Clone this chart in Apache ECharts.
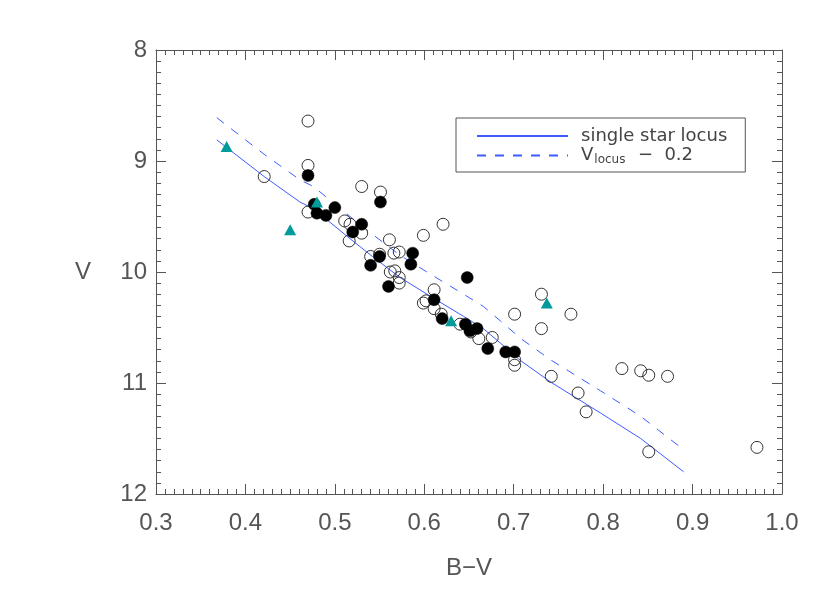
<!DOCTYPE html>
<html>
<head>
<meta charset="utf-8">
<script src="https://cdn.jsdelivr.net/npm/echarts@6/dist/echarts.min.js"></script>
<style>
html,body{margin:0;padding:0;background:#fff;}
#chart{width:830px;height:593px;}
</style>
</head>
<body>
<div id="chart"></div>
<script>
// ---- data (B-V, V) ----
const openStars = [
  [0.470, 8.64], [0.421, 9.14], [0.470, 9.04], [0.470, 9.46], [0.530, 9.23],
  [0.551, 9.28], [0.511, 9.54], [0.517, 9.57], [0.530, 9.65], [0.516, 9.72],
  [0.561, 9.71], [0.599, 9.67], [0.621, 9.57], [0.550, 9.84], [0.540, 9.86],
  [0.566, 9.83], [0.572, 9.82], [0.562, 10.00], [0.567, 9.99], [0.572, 10.05],
  [0.572, 10.10], [0.599, 10.28], [0.602, 10.26], [0.611, 10.16], [0.611, 10.33],
  [0.619, 10.38], [0.640, 10.47], [0.652, 10.54], [0.661, 10.60], [0.676, 10.59],
  [0.701, 10.38], [0.701, 10.79], [0.701, 10.84], [0.731, 10.20], [0.731, 10.51],
  [0.764, 10.38], [0.742, 10.94], [0.772, 11.09], [0.781, 11.26], [0.821, 10.87],
  [0.842, 10.89], [0.851, 10.93], [0.872, 10.94], [0.851, 11.62], [0.972, 11.58]
];
const filledStars = [
  [0.470, 9.13], [0.477, 9.39], [0.480, 9.47], [0.490, 9.49], [0.500, 9.42],
  [0.551, 9.37], [0.530, 9.57], [0.520, 9.64], [0.550, 9.86], [0.540, 9.94],
  [0.587, 9.83], [0.585, 9.93], [0.560, 10.13], [0.648, 10.05], [0.611, 10.25],
  [0.620, 10.42], [0.646, 10.47], [0.651, 10.53], [0.659, 10.51], [0.671, 10.69],
  [0.691, 10.72], [0.701, 10.72]
];
const triangleStars = [
  [0.379, 8.87], [0.480, 9.37], [0.450, 9.62], [0.630, 10.44], [0.737, 10.28]
];
const locusBV = [0.368, 0.421, 0.461, 0.476, 0.517, 0.542, 0.573, 0.607, 0.644, 0.666, 0.685, 0.708, 0.741, 0.797, 0.842, 0.890];
const locusV  = [8.81, 9.14, 9.37, 9.43, 9.70, 9.86, 10.05, 10.22, 10.40, 10.51, 10.64, 10.80, 10.99, 11.27, 11.50, 11.80];
const shiftedBV = [0.368, 0.421, 0.461, 0.476, 0.517, 0.542, 0.573, 0.607, 0.644, 0.666, 0.685, 0.708, 0.741, 0.797, 0.842, 0.885];
const shiftedV  = [8.61, 8.94, 9.17, 9.23, 9.50, 9.66, 9.85, 10.02, 10.20, 10.31, 10.44, 10.60, 10.79, 11.07, 11.30, 11.57];
const xTickLabels = ['0.3', '0.4', '0.5', '0.6', '0.7', '0.8', '0.9', '1.0'];
const yTickLabels = ['8', '9', '10', '11', '12'];
const legendNames = ['single star locus', 'Vlocus - 0.2'];

const FONT = 'Liberation Sans';
const LFONT = 'DejaVu Sans';
const AX = '#555';
const LINE = '#3d5cff';

function zip(a, b) { return a.map((v, i) => [v, b[i]]); }

const axisCommon = {
  axisLine: { show: true, onZero: false, lineStyle: { color: AX, width: 1 } },
  axisTick: { show: true, inside: true, length: 10, lineStyle: { color: AX } },
  minorTick: { show: true, splitNumber: 10, length: 5, lineStyle: { color: AX } },
  splitLine: { show: false },
  minorSplitLine: { show: false }
};

const chart = echarts.init(document.getElementById('chart'), null, { renderer: 'canvas' });
chart.setOption({
  animation: false,
  backgroundColor: '#fff',
  grid: { left: 156, right: 48, top: 50, bottom: 99, containLabel: false },
  xAxis: [
    Object.assign({
      type: 'value', min: 0.3, max: 1.0, interval: 0.1, position: 'bottom',
      name: 'B\u2212V', nameLocation: 'middle', nameGap: 62,
      nameTextStyle: { fontSize: 24, color: AX, fontFamily: FONT },
      axisLabel: {
        fontSize: 24, color: AX, fontFamily: FONT, margin: 17,
        formatter: (v) => xTickLabels[Math.round((v - 0.3) * 10)]
      }
    }, axisCommon),
    Object.assign({
      type: 'value', min: 0.3, max: 1.0, interval: 0.1, position: 'top',
      axisLabel: { show: false }
    }, axisCommon)
  ],
  yAxis: [
    Object.assign({
      type: 'value', min: 8, max: 12, interval: 1, inverse: true, position: 'left',
      name: 'V', nameLocation: 'middle', nameGap: 65, nameRotate: 0,
      nameTextStyle: { fontSize: 24, color: AX, fontFamily: FONT },
      axisLabel: {
        fontSize: 24, color: AX, fontFamily: FONT, margin: 9,
        formatter: (v) => yTickLabels[Math.round(v - 8)]
      }
    }, axisCommon),
    Object.assign({
      type: 'value', min: 8, max: 12, interval: 1, inverse: true, position: 'right',
      axisLabel: { show: false }
    }, axisCommon)
  ],
  legend: {
    show: true,
    data: legendNames,
    orient: 'vertical',
    left: 456, top: 118,
    padding: [9, 18, 6, 20],
    itemWidth: 91, itemHeight: 14, itemGap: 0,
    borderColor: '#555', borderWidth: 1, borderRadius: 0,
    backgroundColor: '#fff',
    itemStyle: { opacity: 0 },
    lineStyle: { inherit: true },
    textStyle: {
      fontSize: 18, color: '#444', fontFamily: LFONT, padding: [0, 0, 0, 8],
      rich: {
        a: { fontSize: 18, color: '#444', fontFamily: LFONT, lineHeight: 20 },
        s: { fontSize: 12, color: '#444', fontFamily: LFONT, lineHeight: 12, padding: [9, 1, 0, 1] }
      }
    },
    formatter: (name) => name === legendNames[1] ? '{a|V}{s|locus}{a|  \u2212  0.2}' : '{a|single star locus}'
  },
  series: [
    {
      name: legendNames[0], type: 'line', data: zip(locusBV, locusV),
      showSymbol: false, symbol: 'none', smooth: false,
      lineStyle: { color: LINE, width: 1 }, itemStyle: { color: LINE }, z: 2
    },
    {
      name: legendNames[1], type: 'line', data: zip(shiftedBV, shiftedV),
      showSymbol: false, symbol: 'none', smooth: false,
      lineStyle: { color: LINE, width: 1, type: [9, 9] }, itemStyle: { color: LINE }, z: 2
    },
    {
      name: 'open', type: 'scatter', data: openStars, symbol: 'circle', symbolSize: 12,
      itemStyle: { color: 'rgba(0,0,0,0)', borderColor: '#333', borderWidth: 1, opacity: 1 }, z: 3
    },
    {
      name: 'filled', type: 'scatter', data: filledStars, symbol: 'circle', symbolSize: 12,
      itemStyle: { color: '#000', borderColor: '#000', borderWidth: 0.5, opacity: 1 }, z: 4
    },
    {
      name: 'tri', type: 'scatter', data: triangleStars, symbol: 'triangle', symbolSize: [12, 11],
      itemStyle: { color: '#009a9a', opacity: 1 }, z: 5
    }
  ]
});
</script>
</body>
</html>
